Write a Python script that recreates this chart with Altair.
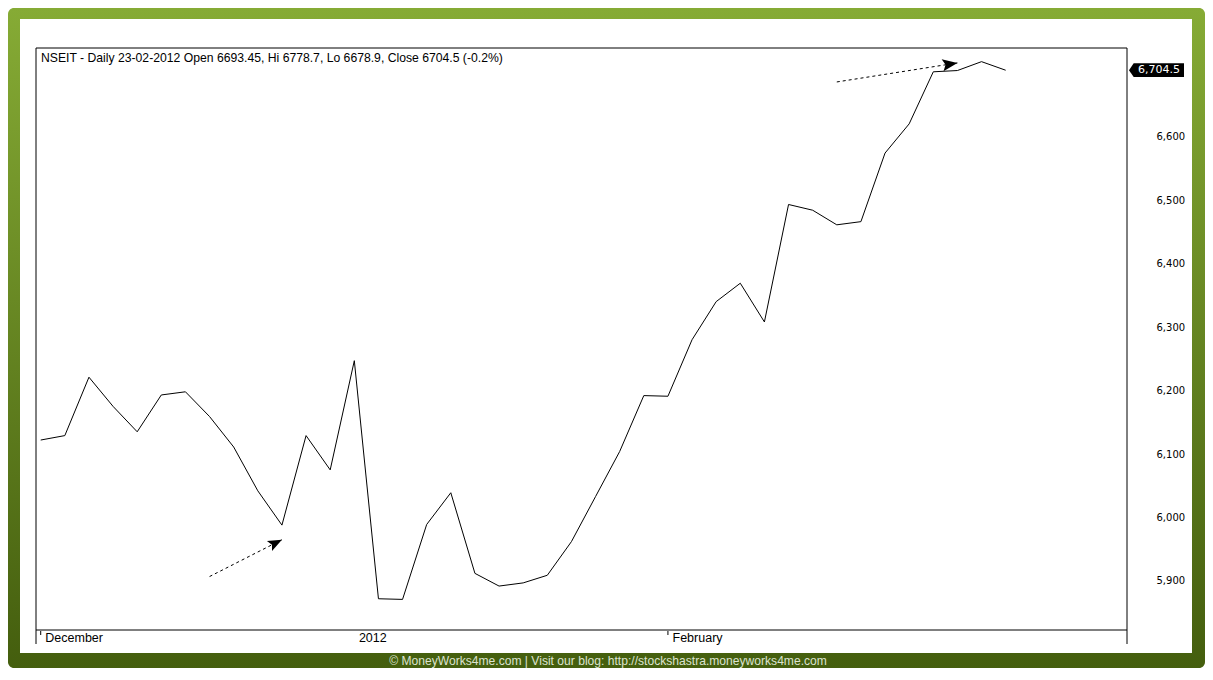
import math
import altair as alt
import pandas as pd

# ---------------- data ----------------
day_index = list(range(41))
close = [6122, 6129, 6221, 6175, 6135, 6193, 6198, 6159, 6111, 6042,
         5988, 6129, 6075, 6247, 5872, 5871, 5989, 6039, 5912, 5892,
         5897, 5909, 5962, 6033, 6104, 6192, 6191, 6280, 6340, 6369,
         6308, 6493, 6484, 6461, 6466, 6574, 6620, 6702, 6704, 6718, 6704.5]
y_ticks = [5900, 6000, 6100, 6200, 6300, 6400, 6500, 6600]
x_label_index = [0, 13, 26]
x_label_text = ["December", "2012", "February"]
x_tick_index = [0, 26]
title_text = "NSEIT - Daily 23-02-2012 Open 6693.45, Hi 6778.7, Lo 6678.9, Close 6704.5 (-0.2%)"
last_value = [6704.5]
last_label = ["6,704.5"]
arrow_id = [1, 2]
arrow_start_index = [7, 33]
arrow_start_value = [5907, 6686]
arrow_end_index = [10, 38]
arrow_end_value = [5965, 6716]
arrow_head_len = [14, 15]
footer_text = "\u00a9 MoneyWorks4me.com | Visit our blog: http://stockshastra.moneyworks4me.com"

# ---------------- layout ----------------
W, H = 1091, 582
X_DOMAIN = [-0.195, 45.03]
Y_DOMAIN = [5822.8, 6739.5]
LABEL_FONT = "Liberation Sans"
NUM_FONT = "DejaVu Sans"

xs = alt.Scale(domain=X_DOMAIN, zero=False, nice=False)
ys = alt.Scale(domain=Y_DOMAIN, zero=False, nice=False)


def X(field="i"):
    return alt.X(f"{field}:Q", scale=xs, axis=None)


def Y(field="v"):
    return alt.Y(f"{field}:Q", scale=ys, axis=alt.Axis(
        orient="right", values=y_ticks, format=",d", domain=False, ticks=False,
        tickSize=0, grid=False, labelPadding=29, labelFont=NUM_FONT,
        labelFontSize=10, labelColor="black", title=None, zindex=2))


one = pd.DataFrame({"a": [0]})

gradient = alt.LinearGradient(
    gradient="linear", x1=0, x2=0, y1=0, y2=1,
    stops=[alt.GradientStop(offset=0, color="#86ab35"),
           alt.GradientStop(offset=1, color="#445e0e")])

frame = alt.Chart(one).mark_rect(color=gradient, cornerRadius=6).encode(
    x=alt.value(-28), x2=alt.value(1169), y=alt.value(-40), y2=alt.value(620))
inner = alt.Chart(one).mark_rect(color="white").encode(
    x=alt.value(-16), x2=alt.value(1156), y=alt.value(-29), y2=alt.value(605))
footer = alt.Chart(one).mark_text(
    text=footer_text, font=LABEL_FONT, fontSize=12.1, color="#dce3d0",
    align="center", baseline="middle").encode(x=alt.value(572), y=alt.value(613))

# plot box
box_top = alt.Chart(one).mark_rule(color="black", strokeWidth=1).encode(
    x=alt.value(0), x2=alt.value(W), y=alt.value(0))
box_bottom = alt.Chart(one).mark_rule(color="black", strokeWidth=1).encode(
    x=alt.value(0), x2=alt.value(W), y=alt.value(H))
box_left = alt.Chart(one).mark_rule(color="black", strokeWidth=1).encode(
    x=alt.value(0), y=alt.value(0), y2=alt.value(H + 14))
box_right = alt.Chart(one).mark_rule(color="black", strokeWidth=1).encode(
    x=alt.value(W), y=alt.value(0), y2=alt.value(H + 14))

title = alt.Chart(one).mark_text(
    text=title_text, font=LABEL_FONT, fontSize=12.2, color="black",
    align="left", baseline="alphabetic").encode(x=alt.value(5), y=alt.value(14))

price = pd.DataFrame({"i": day_index, "v": close})
line = alt.Chart(price).mark_line(color="black", strokeWidth=1).encode(
    x=X(), y=Y())

# x labels and ticks
xl = pd.DataFrame({"i": x_label_index, "t": x_label_text})
x_labels = alt.Chart(xl).mark_text(
    font=LABEL_FONT, fontSize=12.5, color="black", align="left",
    baseline="alphabetic", dx=4.6).encode(x=X(), y=alt.value(H + 12), text="t:N")
xt = pd.DataFrame({"i": x_tick_index})
x_ticks = alt.Chart(xt).mark_rule(color="black", strokeWidth=1).encode(
    x=X(), y=alt.value(H + 1), y2=alt.value(H + 5))

# last-price tag
tag_df = pd.DataFrame({"v": last_value, "t": last_label})
tag_shape = "M-1,0L-0.83,-0.25L1,-0.25L1,0.25L-0.83,0.25Z"
tag = alt.Chart(tag_df).mark_point(
    shape=tag_shape, filled=True, opacity=1, color="black", strokeWidth=0,
    size=55 ** 2).encode(x=alt.value(1120.5), y=Y())
tag_text = alt.Chart(tag_df).mark_text(
    font=NUM_FONT, fontSize=11, color="white", align="left",
    baseline="middle").encode(x=alt.value(1102), y=Y(), text="t:N")

# annotation arrows
rows = []
heads = []
kx = W / (X_DOMAIN[1] - X_DOMAIN[0])
ky = H / (Y_DOMAIN[1] - Y_DOMAIN[0])
for k, a in enumerate(arrow_id):
    rows.append({"arrow": a, "i": arrow_start_index[k], "v": arrow_start_value[k]})
    rows.append({"arrow": a, "i": arrow_end_index[k], "v": arrow_end_value[k]})
    dx = (arrow_end_index[k] - arrow_start_index[k]) * kx
    dy = -(arrow_end_value[k] - arrow_start_value[k]) * ky
    ang = math.degrees(math.atan2(dy, dx)) % 360
    heads.append({"i": arrow_end_index[k], "v": arrow_end_value[k],
                  "ang": ang, "sz": (2 * arrow_head_len[k]) ** 2})
arrow_lines = alt.Chart(pd.DataFrame(rows)).mark_line(
    color="black", strokeWidth=1, strokeDash=[3, 3]).encode(
    x=X(), y=Y(), detail="arrow:N")
head_shape = "M0,0L-1,-0.4L-0.8,0L-1,0.4Z"
arrow_heads = alt.Chart(pd.DataFrame(heads)).mark_point(
    shape=head_shape, filled=True, opacity=1, color="black", strokeWidth=0).encode(
    x=X(), y=Y(), angle=alt.Angle("ang:Q", scale=None),
    size=alt.Size("sz:Q", scale=None))

chart = alt.layer(
    frame, inner, footer, title, line, arrow_lines, arrow_heads,
    box_top, box_bottom, box_left, box_right, x_ticks, x_labels, tag, tag_text
).properties(
    width=W, height=H,
    padding={"left": 28, "top": 40, "right": 78, "bottom": 38},
    autosize=alt.AutoSizeParams(type="none"),
).configure_view(stroke=None)

chart.save("out.html", embed_options={"renderer": "svg", "actions": False})
